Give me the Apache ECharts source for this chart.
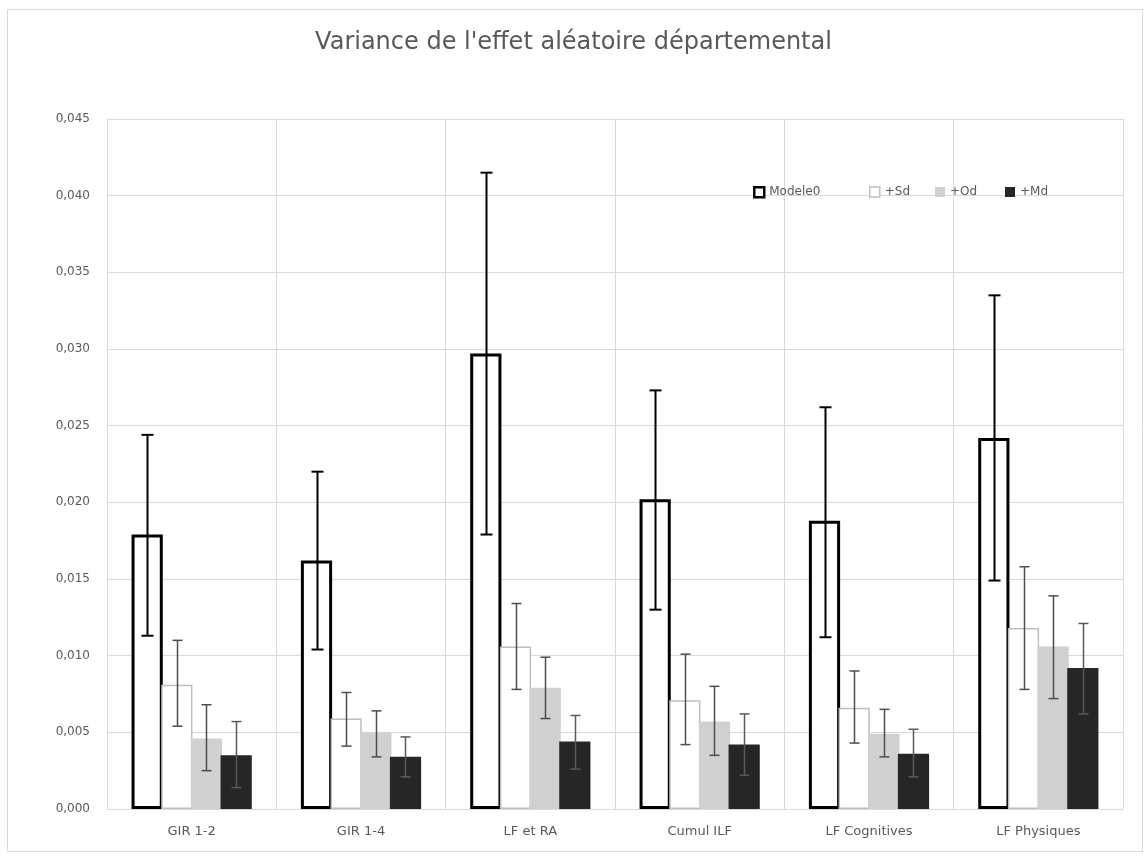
<!DOCTYPE html>
<html>
<head>
<meta charset="utf-8">
<script src="https://cdn.jsdelivr.net/npm/echarts@6/dist/echarts.min.js"></script>
<style>
html,body{margin:0;padding:0;background:#fff;}
#chart{width:1147px;height:856px;}
</style>
</head>
<body>
<div id="chart"></div>
<script>
const categories = ['GIR 1-2', 'GIR 1-4', 'LF et RA', 'Cumul ILF', 'LF Cognitives', 'LF Physiques'];
const seriesNames = ['Modele0', '+Sd', '+Od', '+Md'];

const modele0 = [0.0179, 0.0162, 0.0297, 0.0202, 0.0188, 0.0242];
const modele0Low = [0.0113, 0.0104, 0.0179, 0.0130, 0.0112, 0.0149];
const modele0High = [0.0244, 0.0220, 0.0415, 0.0273, 0.0262, 0.0335];

const sd = [0.0081, 0.0059, 0.0106, 0.0071, 0.0066, 0.0118];
const sdLow = [0.0054, 0.0041, 0.0078, 0.0042, 0.0043, 0.0078];
const sdHigh = [0.0110, 0.0076, 0.0134, 0.0101, 0.0090, 0.0158];

const od = [0.0046, 0.0050, 0.0079, 0.0057, 0.0049, 0.0106];
const odLow = [0.0025, 0.0034, 0.0059, 0.0035, 0.0034, 0.0072];
const odHigh = [0.0068, 0.0064, 0.0099, 0.0080, 0.0065, 0.0139];

const md = [0.0035, 0.0034, 0.0044, 0.0042, 0.0036, 0.0092];
const mdLow = [0.0014, 0.0021, 0.0026, 0.0022, 0.0021, 0.0062];
const mdHigh = [0.0057, 0.0047, 0.0061, 0.0062, 0.0052, 0.0121];

const yTicks = ['0,000','0,005','0,010','0,015','0,020','0,025','0,030','0,035','0,040','0,045'];

const catGap = 0.29;
const barGap = -0.05;
const nBars = 4;
const txt = '#595959';
const font = 'DejaVu Sans';

function errSeries(idx, low, high, color, lw, cap) {
  return {
    type: 'custom',
    name: seriesNames[idx] + ' err',
    z: 10,
    silent: true,
    data: categories.map((c, i) => [i, low[i], high[i]]),
    encode: { x: 0, y: [1, 2] },
    renderItem: function (params, api) {
      const ci = api.value(0);
      const lo = api.coord([ci, api.value(1)]);
      const hi = api.coord([ci, api.value(2)]);
      const band = api.size([1, 0])[0];
      const w = band * (1 - catGap) / (nBars + (nBars - 1) * barGap);
      const total = w * nBars + w * barGap * (nBars - 1);
      const off = -total / 2 + idx * w * (1 + barGap) + w / 2;
      const x = Math.round(lo[0] + off) + 0.5;
      const st = { stroke: color, lineWidth: lw };
      return {
        type: 'group',
        children: [
          { type: 'line', shape: { x1: x, y1: lo[1], x2: x, y2: hi[1] }, style: st },
          { type: 'line', shape: { x1: x - cap, y1: lo[1], x2: x + cap, y2: lo[1] }, style: st },
          { type: 'line', shape: { x1: x - cap, y1: hi[1], x2: x + cap, y2: hi[1] }, style: st }
        ]
      };
    }
  };
}

const legendStyles = [
  { color: '#fff', borderColor: '#000', borderWidth: 2.5 },
  { color: '#fff', borderColor: '#bfbfbf', borderWidth: 1.5 },
  { color: '#d0d0d0', borderWidth: 0 },
  { color: '#262626', borderWidth: 0 }
];
const legendLefts = [753, 869, 935, 1005];

const barStyles = [
  { color: '#fff', borderColor: '#000', borderWidth: 3 },
  { color: '#fff', borderColor: '#bfbfbf', borderWidth: 1.5 },
  { color: '#d0d0d0' },
  { color: '#262626' }
];
const barData = [modele0, sd, od, md];

const chart = echarts.init(document.getElementById('chart'), null, { renderer: 'canvas' });
chart.setOption({
  backgroundColor: '#fff',
  animation: false,
  title: {
    text: "Variance de l'effet aléatoire départemental",
    left: 'center',
    top: 26,
    padding: [5, 5, 5, 27],
    textStyle: { color: txt, fontSize: 24, fontWeight: 'normal', fontFamily: font }
  },
  graphic: [{
    type: 'rect',
    shape: { x: 7.5, y: 9.5, width: 1135, height: 842 },
    style: { fill: 'none', stroke: '#d9d9d9', lineWidth: 1 },
    silent: true
  }],
  legend: seriesNames.map((n, i) => ({
    data: [{ name: n, itemStyle: legendStyles[i] }],
    left: legendLefts[i],
    top: 186,
    icon: 'rect',
    itemWidth: 10,
    itemHeight: 10,
    itemGap: 5,
    padding: 0,
    textStyle: { color: txt, fontSize: 12, fontFamily: font }
  })),
  grid: { left: 107, right: 24, top: 119, bottom: 47, containLabel: false },
  xAxis: {
    type: 'category',
    data: categories,
    axisLine: { show: true, lineStyle: { color: '#d9d9d9', width: 1 } },
    axisTick: { show: false },
    splitLine: { show: true, lineStyle: { color: '#d9d9d9', width: 1 } },
    axisLabel: { color: txt, fontSize: 13, margin: 16, fontFamily: font }
  },
  yAxis: {
    type: 'value',
    min: 0,
    max: 0.045,
    interval: 0.005,
    axisLine: { show: true, lineStyle: { color: '#d9d9d9' } },
    axisTick: { show: false },
    splitLine: { show: true, lineStyle: { color: '#d9d9d9', width: 1 } },
    axisLabel: {
      color: txt, fontSize: 12, margin: 17, fontFamily: font,
      formatter: function (v) { return yTicks[Math.round(v / 0.005)]; }
    }
  },
  series: seriesNames.map((n, i) => ({
    type: 'bar', name: n, data: barData[i],
    barGap: (barGap * 100) + '%', barCategoryGap: (catGap * 100) + '%',
    itemStyle: barStyles[i]
  })).concat([
    errSeries(0, modele0Low, modele0High, '#000', 2, 6),
    errSeries(1, sdLow, sdHigh, '#4d4d4d', 1.5, 5),
    errSeries(2, odLow, odHigh, '#4d4d4d', 1.5, 5),
    errSeries(3, mdLow, mdHigh, '#595959', 1.5, 5)
  ])
});
</script>
</body>
</html>
